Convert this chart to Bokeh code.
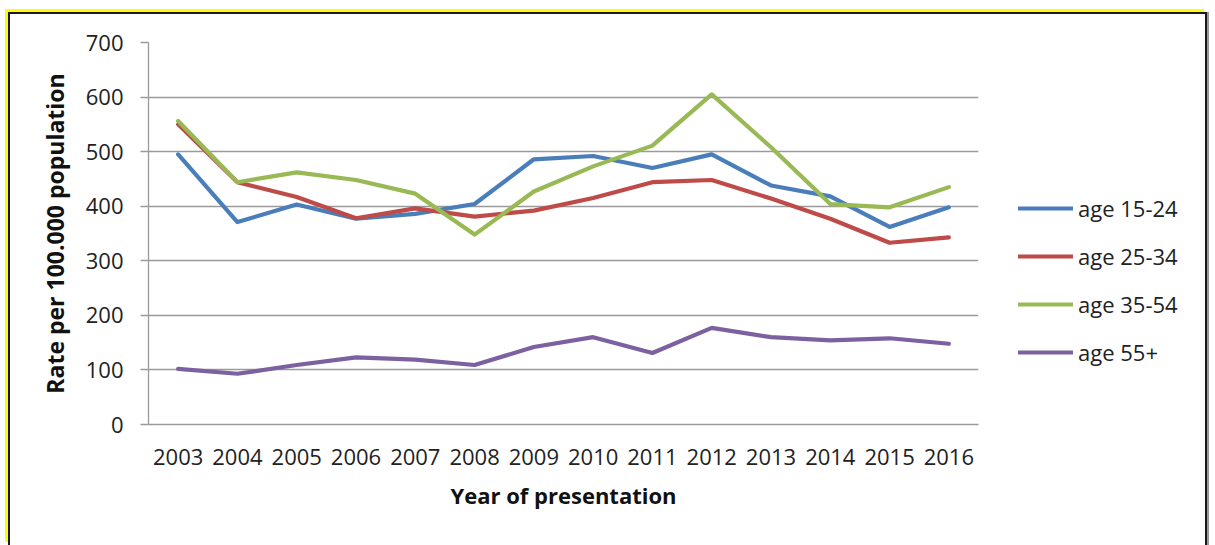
from bokeh.plotting import figure
from bokeh.models import Legend, LegendItem, FactorRange
from bokeh.embed import file_html
from bokeh.resources import INLINE

years = [str(y) for y in range(2003, 2017)]
age_15_24 = [495, 371, 403, 377, 386, 404, 486, 492, 470, 495, 438, 418, 362, 398]
age_25_34 = [550, 444, 417, 378, 396, 381, 392, 415, 444, 448, 414, 377, 333, 343]
age_35_54 = [556, 444, 462, 448, 423, 348, 427, 473, 511, 605, 508, 404, 398, 435]
age_55p = [102, 93, 109, 123, 119, 109, 142, 160, 131, 177, 160, 154, 158, 148]
series_names = ["age 15-24", "age 25-34", "age 35-54", "age 55+"]
series_values = [age_15_24, age_25_34, age_35_54, age_55p]
colors = ["#4A7EBB", "#BE4B48", "#98B954", "#7D60A0"]
y_ticks = [0, 100, 200, 300, 400, 500, 600, 700]

FONT = "Open Sans"

p = figure(frame_width=830, frame_height=382, x_range=FactorRange(*years, range_padding=0),
           y_range=(0, 700), output_backend="svg", toolbar_location=None,
           min_border_left=138, min_border_right=231, min_border_top=28,
           min_border_bottom=121)
p.outline_line_color = None
p.background_fill_color = "white"
p.border_fill_color = "white"
p.styles = {
    "margin-left": "8px",
    "margin-top": "12px",
    "max-width": "1199px",
    "overflow": "hidden",
    "border-left": "2px solid #1a1a1a",
    "border-top": "2px solid #1a1a1a",
    "border-right": "2px solid #1a1a1a",
    "box-shadow": "-3px -3px 0 0 #FFFF00, 2px 0 0 0 #9a9a9a",
}

items = []
for name, vals, c in zip(series_names, series_values, colors):
    r = p.line(years, vals, line_color=c, line_width=4.2, line_join="round", line_cap="round")
    items.append(LegendItem(label=name, renderers=[r]))

# axes
p.xaxis.axis_line_color = "#9A9A9A"
p.xaxis.axis_line_width = 1.3
p.xaxis.major_tick_line_color = None
p.xaxis.minor_tick_line_color = None
p.xaxis.major_label_text_font = FONT
p.xaxis.major_label_text_font_size = "22px"
p.xaxis.major_label_text_color = "#222222"
p.xaxis.major_label_standoff = 18
p.xaxis.axis_label = "Year of presentation"
p.xaxis.axis_label_text_font = FONT
p.xaxis.axis_label_text_font_size = "22px"
p.xaxis.axis_label_text_font_style = "bold"
p.xaxis.axis_label_text_color = "#111111"
p.xaxis.axis_label_standoff = 12

p.yaxis.ticker = y_ticks
p.yaxis.axis_line_color = "#9A9A9A"
p.yaxis.axis_line_width = 1.3
p.yaxis.major_tick_line_color = "#9A9A9A"
p.yaxis.major_tick_line_width = 1.3
p.yaxis.major_tick_in = 0
p.yaxis.major_tick_out = 8
p.yaxis.minor_tick_line_color = None
p.yaxis.major_label_text_font = FONT
p.yaxis.major_label_text_font_size = "22px"
p.yaxis.major_label_text_color = "#222222"
p.yaxis.major_label_standoff = 17
p.yaxis.axis_label = "Rate per 100.000 population"
p.yaxis.axis_label_text_font = FONT
p.yaxis.axis_label_text_font_size = "23px"
p.yaxis.axis_label_text_font_style = "bold"
p.yaxis.axis_label_text_color = "#111111"
p.yaxis.axis_label_standoff = 12

p.xgrid.grid_line_color = None
p.ygrid.grid_line_color = "#9A9A9A"
p.ygrid.grid_line_width = 1.3

legend = Legend(items=items, location=(40, 57), padding=0, margin=0,
                spacing=18, glyph_width=55, glyph_height=20, label_height=20,
                label_standoff=5, label_text_font=FONT, label_text_font_size="22px",
                label_text_color="#222222", border_line_alpha=0,
                background_fill_alpha=0)
p.add_layout(legend, "right")

open("out.html", "w").write(file_html(p, INLINE))
